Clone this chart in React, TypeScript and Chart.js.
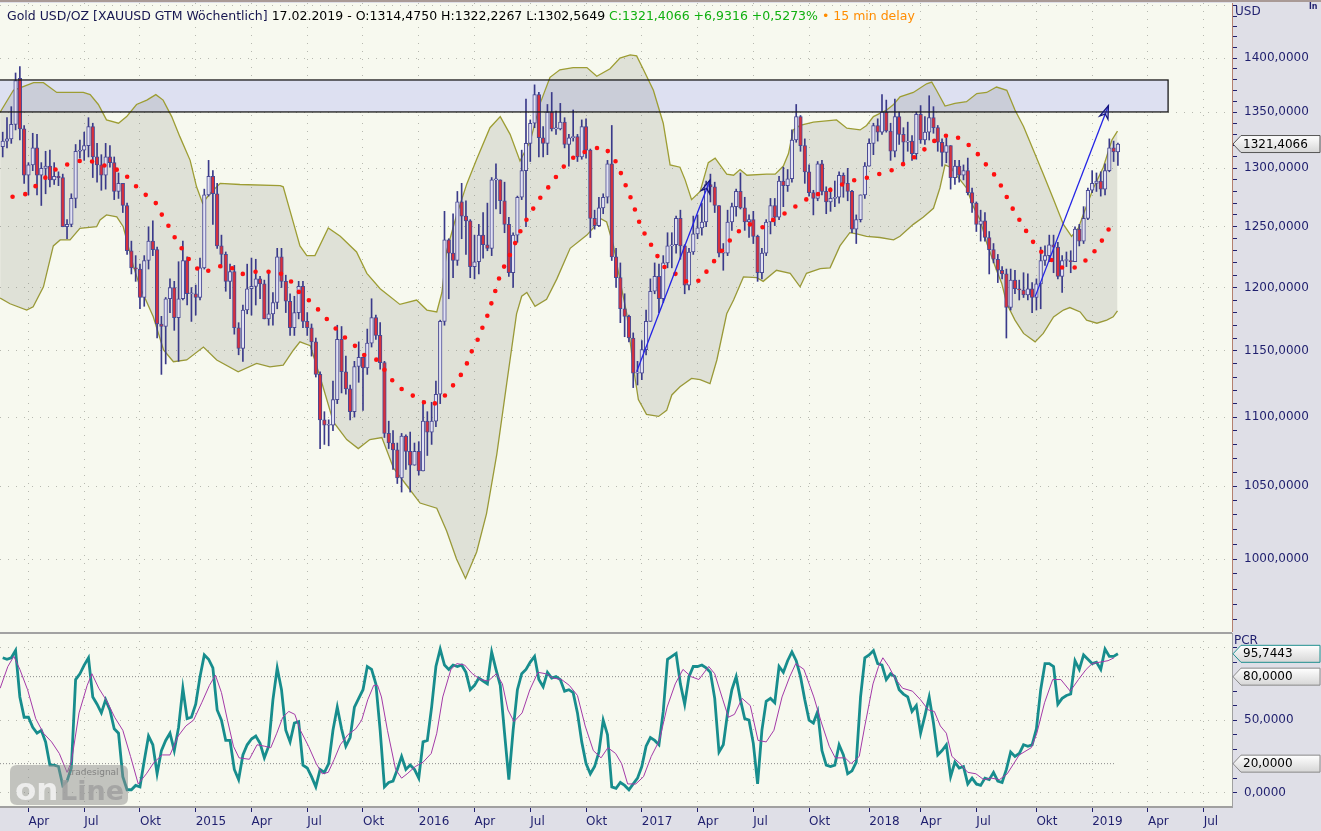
import React, { useEffect, useRef } from "react";
import { Chart, registerables } from "chart.js";

Chart.register(...registerables);

// ---------- layout constants ----------
const W = 1321;
const PLOT_RIGHT = 1232;
const X_MIN = -0.63;
const X_MAX = 286.6;
const PRICE_MIN = 952.16;
const PRICE_MAX = 1452.7;
const PCR_MIN = -9.9;
const PCR_MAX = 110.1;

const NAVY = "#1f1f6e";
const GRID = "#b7b9b0";
const PLOT_BG = "#f7f9ef";
const AXIS_BG = "#dfdfe7";
const FONT = "'DejaVu Sans', sans-serif";

// ---------- x axis ticks (weekly bar index of first bar in month) ----------
const tickIdx = [6, 19, 32, 45, 58, 71, 84, 97, 110, 123, 136, 149, 162, 175, 188, 202, 214, 227, 241, 254, 267, 280];
const tickText = ["Apr", "Jul", "Okt", "2015", "Apr", "Jul", "Okt", "2016", "Apr", "Jul", "Okt", "2017", "Apr", "Jul", "Okt", "2018", "Apr", "Jul", "Okt", "2019", "Apr", "Jul"];

// ---------- weekly candles ----------
const opens = [
  1319, 1324, 1326, 1339, 1381, 1335, 1294, 1303, 1318, 1294,
  1300, 1302, 1290, 1293, 1292, 1250, 1252, 1274, 1315, 1316,
  1320, 1337, 1310, 1303, 1294, 1310, 1305, 1280, 1287, 1268,
  1230, 1216, 1215, 1192, 1222, 1238, 1231, 1171, 1169, 1191,
  1200, 1176, 1191, 1222, 1195, 1195, 1192, 1216, 1277, 1293,
  1278, 1234, 1227, 1205, 1213, 1168, 1152, 1182, 1199, 1201,
  1207, 1203, 1175, 1179, 1188, 1225, 1205, 1189, 1168, 1180,
  1201, 1173, 1168, 1157, 1132, 1098, 1094, 1094, 1113, 1159,
  1134, 1121, 1104, 1138, 1145, 1137, 1156, 1176, 1162, 1141,
  1088, 1081, 1076, 1056, 1086, 1075, 1065, 1075, 1061, 1097,
  1089, 1097, 1117, 1173, 1239, 1228, 1222, 1271, 1259, 1255,
  1217, 1221, 1243, 1235, 1232, 1290, 1290, 1272, 1252, 1212,
  1243, 1275, 1298, 1322, 1340, 1366, 1327, 1322, 1350, 1335,
  1335, 1341, 1321, 1327, 1328, 1310, 1337, 1316, 1257, 1251,
  1266, 1275, 1304, 1225, 1208, 1183, 1177, 1160, 1133, 1133,
  1151, 1173, 1197, 1209, 1191, 1220, 1234, 1235, 1257, 1234,
  1202, 1229, 1244, 1249, 1254, 1286, 1284, 1268, 1228, 1228,
  1254, 1267, 1280, 1266, 1254, 1256, 1242, 1212, 1228, 1254,
  1268, 1258, 1289, 1285, 1291, 1325, 1346, 1320, 1297, 1279,
  1274, 1304, 1280, 1271, 1274, 1275, 1294, 1287, 1280, 1248,
  1256, 1277, 1302, 1322, 1338, 1332, 1350, 1333, 1315, 1346,
  1330, 1323, 1324, 1313, 1348, 1325, 1332, 1345, 1336, 1323,
  1314, 1320, 1292, 1302, 1294, 1298, 1279, 1270, 1252, 1255,
  1241, 1231, 1223, 1214, 1211, 1184, 1206, 1199, 1198, 1194,
  1199, 1192, 1203, 1222, 1226, 1235, 1233, 1209, 1222, 1222,
  1221, 1248, 1238, 1257, 1281, 1287, 1289, 1282, 1298, 1318,
  1314.475,
];
const highs = [
  1332, 1345, 1355, 1386, 1392, 1338, 1305, 1331, 1330, 1305,
  1315, 1316, 1305, 1297, 1295, 1256, 1278, 1321, 1325, 1332,
  1345, 1340, 1322, 1312, 1322, 1320, 1310, 1296, 1287, 1270,
  1238, 1226, 1219, 1226, 1250, 1255, 1233, 1177, 1192, 1207,
  1205, 1221, 1238, 1225, 1200, 1202, 1224, 1282, 1307, 1298,
  1287, 1243, 1229, 1219, 1218, 1172, 1186, 1219, 1224, 1223,
  1209, 1206, 1214, 1196, 1232, 1232, 1210, 1195, 1193, 1205,
  1205, 1180, 1171, 1160, 1134, 1104, 1098, 1127, 1170, 1169,
  1146, 1124, 1142, 1157, 1145, 1167, 1191, 1178, 1172, 1142,
  1097, 1090, 1081, 1088, 1087, 1089, 1081, 1082, 1112, 1104,
  1111, 1127, 1174, 1263, 1240, 1261, 1280, 1287, 1272, 1256,
  1243, 1252, 1262, 1270, 1292, 1304, 1290, 1288, 1258, 1245,
  1276, 1316, 1362, 1343, 1375, 1368, 1337, 1357, 1368, 1351,
  1358, 1345, 1330, 1352, 1330, 1343, 1344, 1317, 1264, 1275,
  1278, 1307, 1338, 1232, 1220, 1195, 1178, 1164, 1142, 1158,
  1182, 1207, 1220, 1219, 1226, 1245, 1245, 1259, 1264, 1235,
  1232, 1259, 1260, 1270, 1289, 1295, 1288, 1268, 1236, 1264,
  1270, 1282, 1296, 1275, 1260, 1263, 1243, 1232, 1256, 1274,
  1274, 1293, 1301, 1299, 1334, 1357, 1347, 1326, 1303, 1281,
  1306, 1307, 1284, 1283, 1289, 1297, 1296, 1300, 1281, 1260,
  1277, 1305, 1326, 1340, 1344, 1366, 1361, 1340, 1362, 1350,
  1336, 1341, 1329, 1350, 1356, 1346, 1365, 1355, 1338, 1326,
  1327, 1320, 1307, 1307, 1303, 1309, 1283, 1271, 1264, 1262,
  1246, 1236, 1227, 1217, 1215, 1215, 1214, 1206, 1212, 1211,
  1204, 1207, 1233, 1234, 1243, 1243, 1237, 1226, 1229, 1230,
  1250, 1252, 1267, 1283, 1298, 1296, 1297, 1304, 1326, 1324,
  1322.2267,
];
const lows = [
  1310, 1318, 1322, 1334, 1325, 1287, 1277, 1298, 1277, 1268,
  1278, 1284, 1286, 1285, 1250, 1240, 1250, 1266, 1309, 1307,
  1310, 1292, 1288, 1281, 1282, 1301, 1273, 1274, 1262, 1227,
  1211, 1205, 1183, 1185, 1215, 1226, 1160, 1132, 1140, 1180,
  1166, 1142, 1190, 1186, 1173, 1178, 1190, 1215, 1276, 1252,
  1232, 1216, 1197, 1191, 1163, 1147, 1142, 1179, 1178, 1186,
  1191, 1175, 1170, 1170, 1183, 1200, 1180, 1162, 1162, 1175,
  1168, 1162, 1146, 1130, 1077, 1080, 1079, 1090, 1110, 1118,
  1117, 1098, 1100, 1126, 1105, 1132, 1153, 1159, 1136, 1085,
  1077, 1062, 1052, 1046, 1062, 1046, 1065, 1058, 1061, 1072,
  1080, 1093, 1110, 1170, 1191, 1208, 1218, 1240, 1227, 1208,
  1207, 1211, 1224, 1230, 1226, 1265, 1261, 1245, 1209, 1200,
  1237, 1273, 1250, 1306, 1336, 1310, 1310, 1312, 1333, 1330,
  1334, 1318, 1302, 1324, 1306, 1308, 1309, 1241, 1248, 1250,
  1261, 1270, 1222, 1200, 1172, 1161, 1157, 1122, 1124, 1128,
  1147, 1173, 1195, 1180, 1188, 1216, 1216, 1228, 1223, 1195,
  1198, 1227, 1240, 1243, 1250, 1271, 1262, 1225, 1214, 1226,
  1247, 1259, 1265, 1247, 1241, 1236, 1205, 1207, 1226, 1244,
  1251, 1256, 1267, 1280, 1288, 1323, 1315, 1287, 1276, 1260,
  1272, 1277, 1261, 1263, 1267, 1270, 1275, 1272, 1245, 1236,
  1254, 1274, 1302, 1312, 1324, 1330, 1332, 1307, 1310, 1321,
  1303, 1315, 1307, 1308, 1322, 1321, 1325, 1331, 1315, 1302,
  1305, 1282, 1286, 1288, 1290, 1277, 1262, 1246, 1238, 1238,
  1211, 1220, 1204, 1207, 1160, 1182, 1195, 1190, 1192, 1190,
  1180, 1182, 1183, 1218, 1221, 1212, 1207, 1196, 1217, 1212,
  1221, 1234, 1236, 1256, 1279, 1280, 1276, 1277, 1297, 1306,
  1302.5649,
];
const closes = [
  1324, 1326, 1339, 1379, 1335, 1294, 1303, 1318, 1294, 1300,
  1302, 1290, 1293, 1292, 1250, 1252, 1274, 1315, 1316, 1320,
  1337, 1310, 1303, 1294, 1310, 1305, 1280, 1287, 1268, 1230,
  1216, 1215, 1192, 1222, 1238, 1231, 1171, 1169, 1191, 1200,
  1176, 1191, 1222, 1195, 1195, 1192, 1216, 1277, 1293, 1278,
  1234, 1227, 1205, 1213, 1168, 1152, 1182, 1199, 1201, 1207,
  1203, 1175, 1179, 1188, 1225, 1205, 1189, 1168, 1180, 1201,
  1173, 1168, 1157, 1132, 1098, 1094, 1094, 1113, 1159, 1134,
  1121, 1104, 1138, 1145, 1137, 1156, 1176, 1162, 1141, 1088,
  1081, 1076, 1056, 1086, 1075, 1065, 1075, 1061, 1097, 1089,
  1097, 1117, 1173, 1239, 1228, 1222, 1271, 1259, 1255, 1217,
  1221, 1243, 1235, 1232, 1290, 1290, 1272, 1252, 1212, 1243,
  1275, 1298, 1322, 1340, 1366, 1327, 1322, 1350, 1335, 1335,
  1341, 1321, 1327, 1328, 1310, 1337, 1316, 1257, 1251, 1266,
  1275, 1304, 1225, 1208, 1183, 1177, 1160, 1133, 1133, 1151,
  1173, 1197, 1209, 1191, 1220, 1234, 1235, 1257, 1234, 1202,
  1229, 1244, 1249, 1254, 1286, 1284, 1268, 1228, 1228, 1254,
  1267, 1280, 1266, 1254, 1256, 1242, 1212, 1228, 1254, 1268,
  1258, 1289, 1285, 1291, 1325, 1346, 1320, 1297, 1279, 1274,
  1304, 1280, 1271, 1274, 1275, 1294, 1287, 1280, 1248, 1256,
  1277, 1302, 1322, 1338, 1332, 1350, 1333, 1315, 1346, 1330,
  1323, 1324, 1313, 1348, 1325, 1332, 1345, 1336, 1323, 1314,
  1320, 1292, 1302, 1294, 1298, 1279, 1270, 1252, 1255, 1241,
  1231, 1223, 1214, 1211, 1184, 1206, 1199, 1198, 1194, 1199,
  1192, 1203, 1222, 1226, 1235, 1233, 1209, 1222, 1222, 1221,
  1248, 1238, 1257, 1281, 1287, 1289, 1282, 1298, 1318, 1314.475,
  1321.4066,
];

// ---------- moving average (red dotted) [bar index, price] ----------
const maPts: [number, number][] = [
  [2.3, 1275.5], [5.2, 1277.5], [7.8, 1285], [10.8, 1294.7], [13.4, 1302], [16.3, 1304.5], [19.2, 1308], [22.1, 1304.5],
  [25.0, 1301], [28.0, 1297], [30.5, 1286.5], [33.2, 1277.5], [35.7, 1270], [37.2, 1259.5], [39.0, 1248.6], [40.5, 1238.5],
  [42.5, 1228], [44.3, 1218], [46.9, 1211.7], [49.8, 1217], [52.7, 1218], [55.3, 1210.5], [58.2, 1212.8], [61.1, 1212.8],
  [64.1, 1212.8], [66.7, 1207.5], [68.7, 1197.5], [71.5, 1189.5], [74.1, 1180.5], [76.6, 1171], [79.2, 1162], [81.8, 1155],
  [84.2, 1147], [87.1, 1143.3], [89.2, 1134.7], [91.3, 1125.5], [93.8, 1118.8], [96.7, 1114.3], [99.6, 1108], [102.3, 1113],
  [104.6, 1122], [106.9, 1132], [108.4, 1141.5], [109.5, 1150.9], [111.1, 1161], [112.1, 1170.6], [113.3, 1180], [114.2, 1190.5],
  [115.1, 1200], [116.0, 1210.7], [117.4, 1220.5], [118.8, 1230.5], [120.0, 1241], [121.4, 1251.7], [123.2, 1262.5], [125.0, 1273],
  [127.3, 1284], [129.4, 1294.7], [131.4, 1304.4], [134.1, 1312.6], [136.9, 1315.7], [139.8, 1319.5], [142.2, 1311.3], [143.7, 1300],
  [144.8, 1289.3], [146.0, 1278.5], [147.1, 1268], [148.0, 1257.5], [149.2, 1247], [150.9, 1236.6], [152.5, 1226.4], [154.4, 1216],
  [157.1, 1210.6], [159.9, 1203.7], [162.9, 1206], [164.6, 1216], [166.9, 1226], [169.0, 1236.6], [171.4, 1245.7], [174.2, 1252],
  [177.2, 1249.5], [180.1, 1257], [183.0, 1262.5], [185.9, 1270], [188.8, 1276.4], [191.7, 1279.3], [194.6, 1284], [197.5, 1289.3],
  [200.5, 1290.5], [203.4, 1294.4], [206.3, 1296.5], [209.2, 1302], [212.2, 1309], [215.0, 1317], [217.9, 1326.5], [220.9, 1330],
  [223.8, 1325.3], [226.7, 1315.6], [229.0, 1304.5], [231.4, 1293.5], [233.1, 1282.7], [234.5, 1272], [236.0, 1261.7], [237.8, 1251.5],
  [239.5, 1241], [241.5, 1231], [244.4, 1222.7], [247.3, 1215.5], [250.2, 1216.4], [253.2, 1224], [255.5, 1233.6], [257.2, 1244.4],
  [259.0, 1254],
];

// ---------- Bollinger bands [bar index, price] ----------
const upperBandPts: [number, number][] = [
  [-0.6, 1350], [2.5, 1370], [7.2, 1377], [9.5, 1377], [12.6, 1368], [18.8, 1368], [20.4, 1366], [22.3, 1357], [24.2, 1343],
  [27.0, 1340], [28.9, 1346], [31.2, 1357], [33.6, 1361], [35.7, 1366], [37.4, 1361], [39.4, 1346], [41.3, 1328], [43.7, 1307],
  [45.2, 1284], [46.6, 1270], [48.3, 1278], [50.7, 1287], [55.3, 1286], [64.7, 1285], [65.4, 1284], [67.8, 1253], [69.3, 1234],
  [70.9, 1226], [72.8, 1226], [75.9, 1249], [78.7, 1242], [82.5, 1229], [84.9, 1211.5], [88.0, 1199], [92.6, 1186.5], [96.5, 1190],
  [98.9, 1182], [101.2, 1180.5], [102.4, 1196], [103.5, 1230], [105.8, 1259.5], [108.2, 1286.5], [110.5, 1308], [113.6, 1336],
  [116.0, 1346], [118.3, 1330], [120.6, 1306.5], [123.0, 1324], [125.3, 1358], [127.6, 1382], [129.9, 1389], [133.0, 1391],
  [136.2, 1391], [138.5, 1383], [141.6, 1390], [143.9, 1400], [146.3, 1403], [147.8, 1402], [149.4, 1389], [151.7, 1370],
  [154.0, 1340], [155.6, 1303], [157.9, 1301], [159.1, 1290], [160.6, 1273], [162.6, 1280], [164.5, 1305], [166.1, 1309],
  [168.8, 1295], [170.4, 1294], [171.9, 1299], [173.5, 1294], [178.1, 1295], [180.1, 1295], [182.0, 1302], [183.2, 1313],
  [184.3, 1334], [185.9, 1338], [189.0, 1341], [194.4, 1343], [196.8, 1335.5], [199.9, 1334], [201.4, 1338], [203.0, 1346],
  [206.1, 1352], [207.7, 1357], [209.2, 1364], [212.3, 1368], [215.4, 1376], [216.6, 1377.5], [217.7, 1370], [219.7, 1355.6],
  [222.0, 1358], [224.7, 1359.5], [227.1, 1367], [229.4, 1368], [231.7, 1373], [234.1, 1370], [236.0, 1352], [238.0, 1337],
  [240.3, 1316], [242.6, 1295], [245.0, 1273], [247.3, 1252], [249.2, 1242], [250.8, 1249], [252.3, 1264], [254.3, 1283],
  [256.6, 1301], [258.6, 1325], [259.9, 1333],
];
const lowerBandPts: [number, number][] = [
  [-0.6, 1191.6], [1.7, 1187], [5.6, 1182], [7.1, 1184.6], [9.5, 1200.6], [11.8, 1234], [13.4, 1239], [15.7, 1239], [18.0, 1248.7],
  [21.9, 1250], [22.7, 1255.7], [24.2, 1260], [26.6, 1258.4], [28.1, 1250], [28.9, 1239], [30.5, 1217], [32.0, 1200.6],
  [35.1, 1176.7], [37.5, 1150.7], [39.8, 1141.7], [42.9, 1143], [46.8, 1153], [49.9, 1143], [54.9, 1134], [59.2, 1140.4],
  [62.3, 1137.8], [65.4, 1139], [67.8, 1150.7], [69.3, 1157], [71.7, 1154], [74.0, 1130], [77.1, 1096.5], [80.2, 1083.5],
  [82.9, 1077], [85.6, 1083.5], [88.4, 1085], [91.1, 1063], [94.2, 1050.6], [97.3, 1038.3], [101.2, 1034.7], [103.5, 1019],
  [105.8, 1000], [107.9, 987], [110.5, 1004.7], [112.8, 1031], [115.2, 1073], [117.5, 1125], [119.8, 1179], [121.0, 1193],
  [122.2, 1196], [124.1, 1185], [126.8, 1190.5], [129.2, 1207], [132.3, 1232], [136.2, 1243], [137.7, 1249], [139.3, 1257],
  [140.8, 1254], [142.4, 1234], [143.9, 1206], [145.5, 1179], [147.0, 1138], [148.2, 1113], [150.1, 1102], [152.9, 1100.5],
  [154.8, 1105], [156.0, 1116.5], [157.9, 1122.7], [160.6, 1129], [162.6, 1128], [164.9, 1125], [166.5, 1143], [168.8, 1179],
  [170.4, 1190], [172.7, 1208.6], [175.8, 1208], [177.3, 1205], [180.4, 1214], [183.6, 1211.5], [185.9, 1200.6], [187.4, 1211.5],
  [190.6, 1215.4], [192.9, 1216], [195.2, 1234], [197.5, 1245], [199.1, 1244], [201.4, 1242], [204.5, 1241], [207.7, 1239],
  [209.2, 1242], [212.3, 1252], [214.6, 1258], [217.0, 1265.6], [218.5, 1283], [219.7, 1303], [220.9, 1301], [222.8, 1292],
  [224.7, 1283], [226.3, 1267], [227.9, 1255.7], [229.4, 1236.6], [231.7, 1214], [232.9, 1203.5], [234.1, 1187], [236.0, 1174],
  [238.0, 1163.6], [240.7, 1157], [242.6, 1163.6], [245.0, 1176.6], [247.3, 1182], [248.8, 1184], [251.2, 1180.5], [252.7, 1174],
  [255.1, 1171.6], [257.4, 1174], [258.9, 1176.6], [259.9, 1181.4],
];

// ---------- resistance zone and trend arrows ----------
const zoneLow = 1350.2;
const zoneHigh = 1379.5;
const zoneStart = -2;
const zoneEnd = 271.7;
const arrow1: [number, number][] = [[147.8, 1134], [164.9, 1289.9]];
const arrow2: [number, number][] = [[240.7, 1192.7], [257.8, 1356]];

// ---------- PCR oscillator ----------
const pcr = [
  93, 92, 93, 98, 66, 52, 52, 45, 41, 43,
  35, 19, 19, 18, 5, 8, 17, 78, 82, 88,
  93, 66, 61, 55, 64, 57, 44, 41, 11, 2,
  2, 5, 4, 22, 39, 33, 13, 29, 36, 41,
  29, 45, 72, 51, 52, 61, 80, 95, 92, 86,
  57, 50, 36, 36, 16, 9, 26, 33, 37, 39,
  34, 24, 32, 64, 86, 71, 43, 35, 48, 49,
  19, 17, 11, 4, 16, 14, 20, 43, 59, 44,
  32, 38, 59, 65, 71, 87, 85, 75, 43, 4,
  7, 8, 16, 25, 16, 19, 16, 10, 35, 36,
  59, 87, 99, 88, 85, 88, 87, 88, 83, 71,
  74, 79, 77, 75, 97, 85, 74, 41, 9, 43,
  71, 82, 85, 90, 94, 78, 73, 83, 79, 80,
  78, 70, 71, 69, 55, 35, 20, 13, 18, 28,
  50, 40, 4, 3, 7, 5, 2, 6, 10, 18,
  32, 38, 36, 33, 56, 92, 94, 96, 75, 61,
  80, 87, 87, 88, 86, 83, 65, 28, 33, 55,
  71, 80, 64, 51, 50, 34, 6, 43, 63, 65,
  62, 87, 83, 91, 97, 91, 80, 64, 50, 48,
  56, 29, 19, 18, 19, 33, 26, 13, 15, 21,
  66, 93, 95, 98, 89, 88, 78, 82, 80, 71,
  68, 66, 56, 60, 41, 53, 66, 48, 26, 29,
  33, 11, 21, 17, 18, 6, 10, 6, 5, 10,
  9, 14, 8, 7, 16, 28, 25, 27, 33, 32,
  33, 44, 71, 89, 89, 87, 61, 65, 67, 68,
  91, 85, 95, 92, 89, 90, 85, 99, 94, 94,
  95.7443,
];
const pcrSignalPts: [number, number][] = [
  [-0.6, 72], [1.2, 87], [2.6, 94], [4.0, 85], [5.8, 71], [7.7, 51], [9.5, 41], [11.4, 35], [13.2, 27], [15.0, 14], [16.0, 21],
  [17.8, 55], [19.7, 74], [20.8, 82], [22.4, 72], [24.3, 63], [26.1, 52], [28.0, 43], [29.8, 25], [31.6, 6], [33.5, 13],
  [35.3, 21], [37.2, 26], [39.0, 26], [40.9, 39], [42.7, 46], [44.5, 50], [46.4, 62], [48.2, 74], [49.6, 81], [51.0, 69],
  [52.4, 50], [53.8, 32], [55.1, 24], [57.5, 23], [59.3, 33], [61.1, 32], [62.5, 31], [63.9, 41], [65.3, 52], [66.7, 56],
  [68.1, 54], [69.4, 43], [71.3, 32], [73.1, 20], [74.5, 13], [75.9, 14], [77.3, 23], [78.7, 33], [80.5, 40], [82.3, 44],
  [83.7, 50], [85.1, 64], [86.5, 74], [87.4, 74], [88.3, 66], [89.7, 43], [91.6, 16], [93.0, 10], [94.3, 13], [96.2, 18],
  [98.0, 21], [99.9, 27], [101.2, 41], [102.6, 66], [104.5, 85], [105.9, 89], [107.7, 88], [109.5, 82], [111.4, 78], [113.2, 77],
  [115.1, 82], [116.5, 75], [117.8, 57], [119.2, 49], [121.1, 55], [122.9, 71], [124.8, 83], [126.6, 82], [128.4, 79], [130.3, 78],
  [132.1, 74], [134.0, 67], [135.8, 46], [137.7, 29], [139.5, 24], [141.1, 31], [142.9, 27], [144.3, 20], [145.7, 6], [147.6, 6],
  [149.4, 11], [151.2, 25], [153.1, 36], [154.9, 59], [156.8, 75], [158.6, 85], [160.5, 80], [162.3, 78], [164.6, 87], [166.0, 82],
  [167.9, 64], [169.2, 52], [170.6, 54], [172.4, 65], [174.3, 60], [176.1, 36], [178.0, 35], [179.8, 43], [181.7, 66], [183.5, 80],
  [184.9, 89], [186.8, 85], [189.1, 66], [190.9, 48], [192.7, 32], [194.1, 24], [196.4, 24], [197.8, 20], [199.7, 25], [201.0, 46],
  [202.9, 75], [204.2, 87], [205.2, 93], [206.6, 87], [208.0, 79], [209.8, 72], [212.1, 70], [214.0, 64], [215.8, 57], [217.2, 56],
  [218.6, 46], [220.0, 41], [221.3, 25], [223.2, 20], [225.0, 14], [226.9, 13], [228.7, 9], [230.5, 10], [232.4, 9], [234.2, 13],
  [237.0, 26], [239.8, 31], [241.1, 41], [242.9, 62], [244.8, 78], [246.7, 78], [248.9, 70], [250.8, 78], [252.6, 85], [254.0, 89],
  [255.8, 90], [257.7, 91], [259.1, 93],
];
const pcrLevels = [80, 20];
const levelEnd = 259.2;

const fmt = (v: number) => v.toFixed(4).replace(".", ",");

function drawTag(ctx: CanvasRenderingContext2D, y: number, text: string, border: string) {
  const x0 = 1233, x1 = 1320, h = 17, n = 8;
  ctx.save();
  ctx.beginPath();
  ctx.moveTo(x0, y);
  ctx.lineTo(x0 + n, y - h / 2);
  ctx.lineTo(x1, y - h / 2);
  ctx.lineTo(x1, y + h / 2);
  ctx.lineTo(x0 + n, y + h / 2);
  ctx.closePath();
  const g = ctx.createLinearGradient(0, y - h / 2, 0, y + h / 2);
  g.addColorStop(0, "#ffffff");
  g.addColorStop(1, "#d6d6d6");
  ctx.fillStyle = g;
  ctx.fill();
  ctx.strokeStyle = border;
  ctx.lineWidth = 1;
  ctx.stroke();
  ctx.fillStyle = "#000";
  ctx.font = `12px ${FONT}`;
  ctx.textBaseline = "middle";
  ctx.fillText(text, x0 + 10, y + 0.5);
  ctx.restore();
}

const noPad = (s: any) => {
  s.paddingTop = 0;
  s.paddingBottom = 0;
  s.paddingLeft = 0;
  s.paddingRight = 0;
};

export default function App() {
  const topRef = useRef<HTMLCanvasElement | null>(null);
  const botRef = useRef<HTMLCanvasElement | null>(null);

  useEffect(() => {
    document.body.style.margin = "0";
    const idx = closes.map((_, i) => i);
    const toXY = (pts: [number, number][]) => pts.map(([x, y]) => ({ x, y }));

    const bgPlugin = {
      id: "plotBg",
      beforeDraw(chart: any) {
        const { ctx, chartArea: a } = chart;
        ctx.save();
        ctx.fillStyle = PLOT_BG;
        ctx.fillRect(a.left, a.top, a.right - a.left, a.bottom - a.top);
        ctx.restore();
      },
    };

    const mainDeco = {
      id: "mainDeco",
      beforeDatasetsDraw(chart: any) {
        const { ctx, chartArea: a, scales } = chart;
        const x0 = scales.x.getPixelForValue(zoneStart);
        const x1 = scales.x.getPixelForValue(zoneEnd);
        const y0 = scales.y.getPixelForValue(zoneHigh);
        const y1 = scales.y.getPixelForValue(zoneLow);
        ctx.save();
        ctx.beginPath();
        ctx.rect(a.left, a.top, a.right - a.left, a.bottom - a.top);
        ctx.clip();
        ctx.fillStyle = "#dde0f1";
        ctx.fillRect(x0, y0, x1 - x0, y1 - y0);
        ctx.restore();
      },
      afterDatasetsDraw(chart: any) {
        const { ctx, chartArea: a, scales } = chart;
        const x0 = scales.x.getPixelForValue(zoneStart);
        const x1 = scales.x.getPixelForValue(zoneEnd);
        const y0 = scales.y.getPixelForValue(zoneHigh);
        const y1 = scales.y.getPixelForValue(zoneLow);
        ctx.save();
        ctx.beginPath();
        ctx.rect(a.left, a.top, a.right - a.left, a.bottom - a.top);
        ctx.clip();
        ctx.strokeStyle = "#1a1a1a";
        ctx.lineWidth = 1.3;
        ctx.strokeRect(x0, y0, x1 - x0, y1 - y0);
        [arrow1, arrow2].forEach((ar) => {
          const px = scales.x.getPixelForValue(ar[0][0]);
          const py = scales.y.getPixelForValue(ar[0][1]);
          const tx = scales.x.getPixelForValue(ar[1][0]);
          const ty = scales.y.getPixelForValue(ar[1][1]);
          const ang = Math.atan2(ty - py, tx - px);
          const c = Math.cos(ang), s = Math.sin(ang);
          const L = 13, wd = 4.5;
          const bx = tx - L * c, by = ty - L * s;
          ctx.beginPath();
          ctx.moveTo(tx, ty);
          ctx.lineTo(bx - s * wd, by + c * wd);
          ctx.lineTo(tx - (L - 4) * c, ty - (L - 4) * s);
          ctx.lineTo(bx + s * wd, by - c * wd);
          ctx.closePath();
          ctx.fillStyle = "rgba(70,70,210,0.35)";
          ctx.fill();
          ctx.strokeStyle = "#15157a";
          ctx.lineWidth = 1.2;
          ctx.stroke();
        });
        ctx.restore();
      },
      afterDraw(chart: any) {
        const { ctx, scales } = chart;
        ctx.save();
        ctx.strokeStyle = "#a99a96";
        ctx.lineWidth = 2;
        ctx.beginPath();
        ctx.moveTo(0, 1);
        ctx.lineTo(W, 1);
        ctx.stroke();
        ctx.fillStyle = NAVY;
        ctx.font = `12px ${FONT}`;
        ctx.textBaseline = "middle";
        ctx.fillText("USD", 1235, 12);
        ctx.font = `bold 8px ${FONT}`;
        ctx.fillText("ln", 1309, 7);
        ctx.restore();
        const last = closes[closes.length - 1];
        drawTag(ctx, scales.y.getPixelForValue(last), fmt(last), "#555555");
      },
    };

    const priceTicks: number[] = [];
    for (let v = 960; v <= 1450; v += 10) priceTicks.push(v);
    const pcrTicks = [0, 10, 20, 30, 40, 50, 60, 70, 80, 90, 100];

    const top = new Chart(topRef.current as HTMLCanvasElement, {
      type: "line",
      data: {
        datasets: [
          {
            type: "line",
            label: "upper",
            data: toXY(upperBandPts),
            borderColor: "#9d9d33",
            borderWidth: 1.3,
            pointRadius: 0,
            fill: "+1",
            backgroundColor: "rgba(120,120,112,0.19)",
            order: 10,
          },
          {
            type: "line",
            label: "lower",
            data: toXY(lowerBandPts),
            borderColor: "#9d9d33",
            borderWidth: 1.3,
            pointRadius: 0,
            fill: false,
            order: 10,
          },
          {
            type: "bar",
            label: "wick",
            data: idx.map((i) => ({ x: i, y: [lows[i], highs[i]] })),
            backgroundColor: "#3a3a8a",
            barThickness: 1,
            grouped: false,
            order: 7,
          },
          {
            type: "bar",
            label: "body",
            data: idx.map((i) => ({ x: i, y: [opens[i], closes[i]] })),
            backgroundColor: idx.map((i) => (closes[i] < opens[i] ? "#d8303c" : "#e2e2f2")),
            borderColor: "#4a4a94",
            borderWidth: 1,
            borderSkipped: false,
            barThickness: 3.6,
            minBarLength: 1,
            grouped: false,
            order: 6,
          },
          {
            type: "line",
            label: "ma",
            data: toXY(maPts),
            borderColor: "#ff1010",
            borderWidth: 4.6,
            borderCapStyle: "round",
            borderDash: [0, 13],
            pointRadius: 0,
            fill: false,
            order: 4,
          },
          {
            type: "line",
            label: "arrow1",
            data: toXY(arrow1),
            borderColor: "#2323e6",
            borderWidth: 1.3,
            pointRadius: 0,
            fill: false,
            order: 2,
          },
          {
            type: "line",
            label: "arrow2",
            data: toXY(arrow2),
            borderColor: "#2323e6",
            borderWidth: 1.3,
            pointRadius: 0,
            fill: false,
            order: 2,
          },
        ] as any,
      },
      options: {
        responsive: false,
        animation: false,
        events: [],
        layout: { padding: { top: 3, left: 0, right: 0, bottom: 0 } },
        plugins: { legend: { display: false }, tooltip: { enabled: false } },
        scales: {
          x: {
            type: "linear",
            offset: false,
            min: X_MIN,
            max: X_MAX,
            afterBuildTicks: (s: any) => {
              s.ticks = tickIdx.map((v) => ({ value: v }));
            },
            afterFit: (s: any) => {
              s.height = 0;
              noPad(s);
            },
            ticks: { display: false },
            grid: { color: GRID, drawTicks: false, lineWidth: 1, offset: false },
            border: { display: false, dash: [1, 7] },
          },
          y: {
            type: "logarithmic",
            position: "right",
            min: PRICE_MIN,
            max: PRICE_MAX,
            afterBuildTicks: (s: any) => {
              s.ticks = priceTicks.map((v) => ({ value: v }));
            },
            afterFit: (s: any) => {
              s.width = W - PLOT_RIGHT;
              noPad(s);
            },
            ticks: {
              autoSkip: false,
              padding: 7,
              color: NAVY,
              font: { family: FONT, size: 12 },
              callback: (v: any) => (Math.round(v) % 50 === 0 && v <= 1400 ? fmt(Number(v)) : ""),
            },
            grid: {
              color: (c: any) => (c.tick && Math.round(c.tick.value) % 50 === 0 ? GRID : "rgba(0,0,0,0)"),
              tickColor: NAVY,
              tickLength: 5,
              lineWidth: 1,
            },
            border: { color: "#b4806f", width: 1, dash: [1, 7] },
          },
        },
      } as any,
      plugins: [bgPlugin, mainDeco],
    });

    const botDeco = {
      id: "botDeco",
      afterDatasetsDraw(chart: any) {
        const { ctx } = chart;
        ctx.save();
        ctx.globalAlpha = 0.5;
        const bx = 10, by = 133, bw = 118, bh = 40, r = 7;
        ctx.beginPath();
        ctx.moveTo(bx + r, by);
        ctx.lineTo(bx + bw - r, by);
        ctx.quadraticCurveTo(bx + bw, by, bx + bw, by + r);
        ctx.lineTo(bx + bw, by + bh - r);
        ctx.quadraticCurveTo(bx + bw, by + bh, bx + bw - r, by + bh);
        ctx.lineTo(bx + r, by + bh);
        ctx.quadraticCurveTo(bx, by + bh, bx, by + bh - r);
        ctx.lineTo(bx, by + r);
        ctx.quadraticCurveTo(bx, by, bx + r, by);
        ctx.closePath();
        ctx.fillStyle = "#8e8e8e";
        ctx.fill();
        ctx.globalAlpha = 0.85;
        ctx.fillStyle = "#f4f4f4";
        ctx.font = `bold 31px ${FONT}`;
        ctx.textBaseline = "alphabetic";
        ctx.fillText("on", 15, by + 35);
        ctx.fillStyle = "#a0a0a0";
        ctx.font = `bold 27px ${FONT}`;
        ctx.fillText("Line", 60, by + 35);
        ctx.fillStyle = "#777";
        ctx.font = `9px ${FONT}`;
        ctx.fillText("tradesignal", 68, by + 10);
        ctx.restore();
      },
      afterDraw(chart: any) {
        const { ctx, scales, chartArea: a } = chart;
        ctx.save();
        ctx.strokeStyle = "#a2a2a2";
        ctx.lineWidth = 2;
        ctx.beginPath();
        ctx.moveTo(0, 1);
        ctx.lineTo(a.right, 1);
        ctx.stroke();
        ctx.fillStyle = NAVY;
        ctx.font = `12px ${FONT}`;
        ctx.textBaseline = "middle";
        ctx.fillText("PCR", 1234, 9);
        ctx.restore();
        const last = pcr[pcr.length - 1];
        drawTag(ctx, scales.y.getPixelForValue(80), fmt(80), "#8a8a8a");
        drawTag(ctx, scales.y.getPixelForValue(20), fmt(20), "#8a8a8a");
        drawTag(ctx, scales.y.getPixelForValue(last), fmt(last), "#1f8f8f");
      },
    };

    const bot = new Chart(botRef.current as HTMLCanvasElement, {
      type: "line",
      data: {
        datasets: [
          ...pcrLevels.map((lv) => ({
            type: "line",
            data: [
              { x: X_MIN, y: lv },
              { x: levelEnd, y: lv },
            ],
            borderColor: "#8c8c8c",
            borderWidth: 1,
            borderDash: [1, 2],
            pointRadius: 0,
            fill: false,
            order: 5,
          })),
          {
            type: "line",
            label: "signal",
            data: toXY(pcrSignalPts),
            borderColor: "#a43aa8",
            borderWidth: 1,
            pointRadius: 0,
            fill: false,
            order: 2,
          },
          {
            type: "line",
            label: "pcr",
            data: pcr.map((v, i) => ({ x: i, y: v })),
            borderColor: "#178d8d",
            borderWidth: 2.8,
            pointRadius: 0,
            fill: false,
            order: 3,
          },
        ] as any,
      },
      options: {
        responsive: false,
        animation: false,
        events: [],
        layout: { padding: { top: 1, left: 0, right: 0, bottom: 0 } },
        plugins: { legend: { display: false }, tooltip: { enabled: false } },
        scales: {
          x: {
            type: "linear",
            offset: false,
            min: X_MIN,
            max: X_MAX,
            afterBuildTicks: (s: any) => {
              s.ticks = tickIdx.map((v) => ({ value: v }));
            },
            afterFit: (s: any) => {
              s.height = 24;
              noPad(s);
            },
            ticks: {
              autoSkip: false,
              maxRotation: 0,
              align: "start",
              padding: 3,
              color: NAVY,
              font: { family: FONT, size: 12 },
              callback: (v: any) => tickText[tickIdx.indexOf(Math.round(Number(v)))] || "",
            },
            grid: { color: GRID, tickColor: NAVY, tickLength: 5, lineWidth: 1, offset: false },
            border: { color: "#a0a0a0", width: 2, dash: [1, 7] },
          },
          y: {
            type: "linear",
            position: "right",
            min: PCR_MIN,
            max: PCR_MAX,
            afterBuildTicks: (s: any) => {
              s.ticks = pcrTicks.map((v) => ({ value: v }));
            },
            afterFit: (s: any) => {
              s.width = W - PLOT_RIGHT;
              noPad(s);
            },
            ticks: {
              autoSkip: false,
              padding: 7,
              color: NAVY,
              font: { family: FONT, size: 12 },
              callback: (v: any) => (v === 0 || v === 50 ? fmt(Number(v)) : ""),
            },
            grid: {
              color: (c: any) => (c.tick && [0, 50, 100].includes(c.tick.value) ? GRID : "rgba(0,0,0,0)"),
              tickColor: NAVY,
              tickLength: 5,
              lineWidth: 1,
            },
            border: { color: "#a0a0a0", width: 1, dash: [1, 7] },
          },
        },
      } as any,
      plugins: [bgPlugin, botDeco],
    });

    return () => {
      top.destroy();
      bot.destroy();
    };
  }, []);

  const n = closes.length - 1;
  const chg = closes[n] - closes[n - 1];
  const pct = (chg / closes[n - 1]) * 100;

  return (
    <div style={{ position: "relative", width: W, height: 831, background: AXIS_BG, overflow: "hidden" }}>
      <canvas ref={topRef} width={W} height={632} style={{ position: "absolute", left: 0, top: 0, width: W, height: 632 }} />
      <canvas ref={botRef} width={W} height={199} style={{ position: "absolute", left: 0, top: 632, width: W, height: 199 }} />
      <div
        style={{
          position: "absolute",
          left: 7,
          top: 9,
          font: `12.5px ${FONT}`,
          whiteSpace: "nowrap",
          lineHeight: "14px",
        }}
      >
        <span style={{ color: "#161650" }}>Gold USD/OZ [XAUUSD GTM Wöchentlich]</span>
        <span style={{ color: "#000" }}>
          {" "}17.02.2019 - O:{fmt(opens[n])} H:{fmt(highs[n])} L:{fmt(lows[n])}{" "}
        </span>
        <span style={{ color: "#10b010" }}>
          C:{fmt(closes[n])} +{fmt(chg)} +{fmt(pct)}%
        </span>
        <span style={{ color: "#ff8c00" }}> • 15 min delay</span>
      </div>
    </div>
  );
}
